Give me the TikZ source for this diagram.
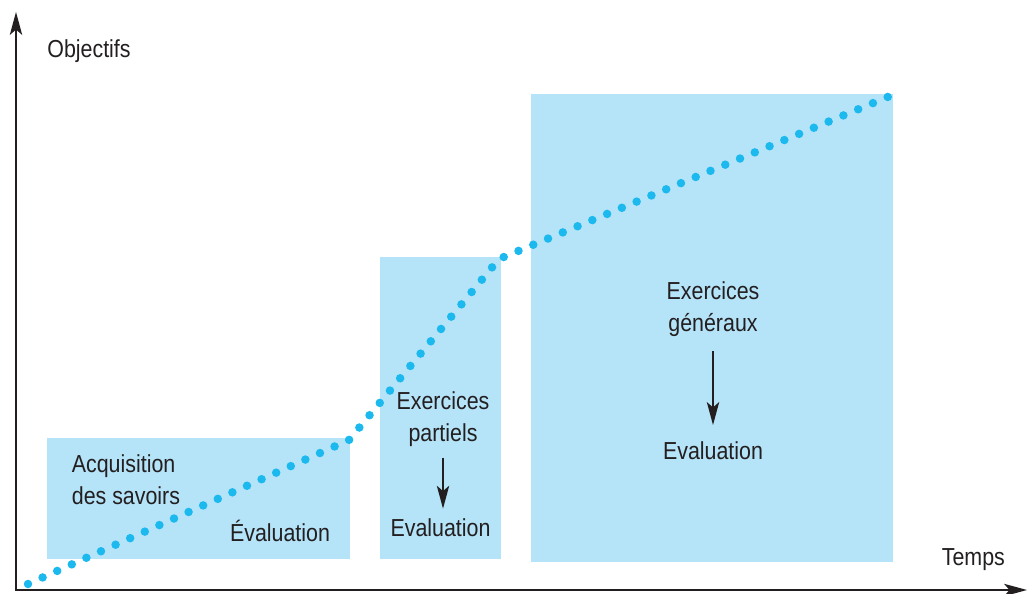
\documentclass[tikz,border=0pt]{standalone}
\usepackage{fontspec}
\setmainfont[FakeStretch=0.87]{Liberation Sans}
\usepackage{tikz}
\usetikzlibrary{arrows.meta}
\usetikzlibrary{positioning}
\definecolor{zoneblue}{HTML}{B5E3F8}
\definecolor{dotblue}{HTML}{1BB9EE}
\definecolor{inkgray}{HTML}{231F20}
\tikzset{
  zone/.style={fill=zoneblue},
  dotline/.style={dotblue,line width=0.17cm,line cap=round,dash pattern=on 0pt off 0.32cm},
  axis/.style={inkgray,line width=1.1pt,{Stealth[length=13pt,width=7pt,inset=3pt]}-{Stealth[length=13pt,width=7pt,inset=3pt]}},
  step arrow/.style={inkgray,line width=1.1pt,-{Stealth[length=13pt,width=7pt,inset=3pt]}},
  label/.style={inkgray,font=\fontsize{14}{18}\selectfont,align=center,inner sep=0pt}
}
\begin{document}
\begin{tikzpicture}
\useasboundingbox (0,0) rectangle (20.56,11.86);
\coordinate (O) at (0.32,0.06);
\coordinate (ytop) at (0.32,11.62);
\coordinate (xend) at (20.54,0.06);
% zones
\fill[zone] (0.94,0.68) rectangle (7.0,3.1);
\fill[zone] (7.6,0.68) rectangle (10.02,6.72);
\fill[zone] (10.62,0.62) rectangle (17.86,9.98);
% progression
\draw[dotline] (0.56,0.18) -- (6.98,3.06) -- (9.98,6.68) -- (17.8,9.94);
% axes
\draw[axis] (ytop) -- (O) -- (xend);
\node[label,anchor=base west] (obj) at (0.94,10.71) {Objectifs};
\node[label,anchor=base west] (temps) at (18.83,0.56) {Temps};
% zone 1
\node[label,align=left,anchor=base west] (acq) at (1.43,1.78) {Acquisition\\des savoirs};
\node[label,anchor=base] (ev1) at (5.6,1.03) {Évaluation};
% zone 2
\node[label,anchor=base] (part) at (8.86,3.04) {Exercices\\partiels};
\node[label,anchor=base] (ev2) at (8.81,1.13) {Evaluation};
\draw[step arrow,shorten <=6.5pt,shorten >=5.5pt] (part.south) -- (part.south |- ev2.north);
% zone 3
\node[label,anchor=base] (gen) at (14.26,5.24) {Exercices\\généraux};
\node[label,anchor=base] (ev3) at (14.26,2.68) {Evaluation};
\draw[step arrow,shorten <=8.5pt,shorten >=9pt] (gen.south) -- (gen.south |- ev3.north);
\end{tikzpicture}
\end{document}
